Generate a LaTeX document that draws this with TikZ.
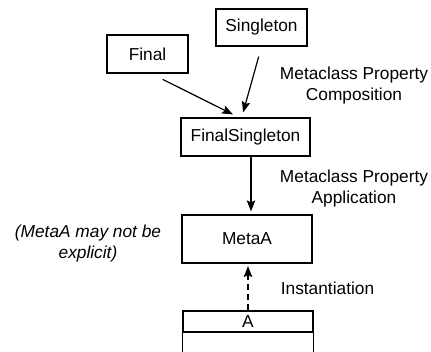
\documentclass[tikz,border=0pt]{standalone}
\usepackage{fontspec}
\setmainfont{Liberation Sans}
\usetikzlibrary{arrows.meta}
\begin{document}
\begin{tikzpicture}[x=1pt,y=-1pt,
  box/.style={draw, line width=1.2pt, inner sep=0pt, font=\fontsize{17.3}{21}\selectfont},
  lbl/.style={align=center, inner sep=0pt, font=\fontsize{17.3}{21}\selectfont},
  conn/.style={line width=1.2pt, -{Stealth[length=11pt,width=8.5pt,inset=2pt]}}]
\clip (0,0) rectangle (431,351);
\node[box, minimum width=81pt, minimum height=38pt] (final) at (147.5,54) {Final};
\node[box, minimum width=91pt, minimum height=37pt] (single) at (261.5,27.5) {Singleton};
\node[box, minimum width=129pt, minimum height=38pt] (fs) at (245.5,137) {FinalSingleton};
\node[box, minimum width=130pt, minimum height=48pt] (meta) at (247,239) {MetaA};
\node[box, minimum width=130pt, minimum height=21pt] (a) at (248,321.5) {A};
\draw[line width=1.2pt] (a.south west) -- ++(0,30);
\draw[line width=1.2pt] (a.south east) -- ++(0,30);

\draw[conn, shorten <=13pt, shorten >=6.7pt] ([xshift=3.5pt]final.south) -- ([xshift=-6.5pt]fs.north);
\draw[conn, shorten <=10.3pt, shorten >=5.2pt] (single.south) -- ([xshift=-3.8pt]fs.north);
\draw[conn, shorten >=3pt] ([xshift=5.5pt]fs.south) -- ([xshift=4pt]meta.north);
\draw[conn, dash pattern=on 6pt off 4pt, shorten >=2.5pt] (a.north) -- ([xshift=1pt]meta.south);

\node[lbl] (l1) at (354,86) {Metaclass Property\\Composition};
\node[lbl] (l2) at (354,189) {Metaclass Property\\Application};
\node[lbl, font=\fontsize{17.3}{21}\selectfont\itshape] (l3) at (88,244) {(MetaA may not be\\explicit)};
\node[lbl] (l4) at (327.5,288) {Instantiation};
\end{tikzpicture}
\end{document}
